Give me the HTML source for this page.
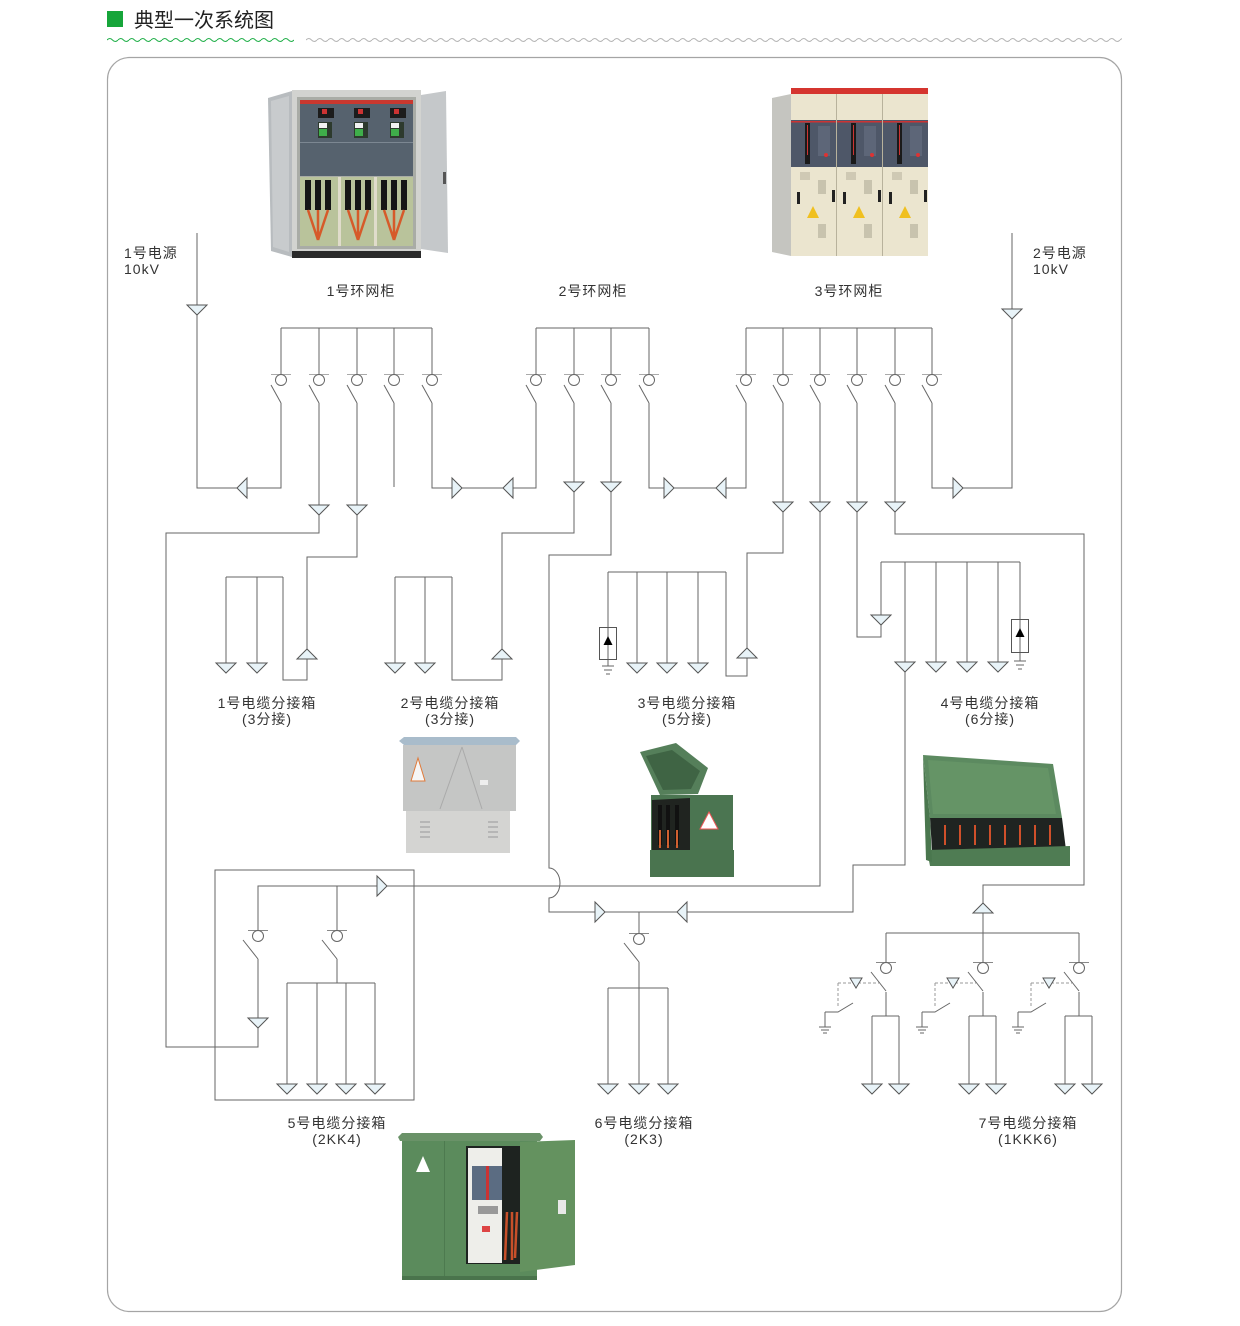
<!DOCTYPE html>
<html><head><meta charset="utf-8">
<style>
html,body{margin:0;padding:0;background:#fff;}
svg{display:block;}
text{font-family:"Liberation Sans","Noto Sans CJK SC",sans-serif;fill:#333;}
</style></head><body>
<svg width="1240" height="1326" viewBox="0 0 1240 1326" xmlns="http://www.w3.org/2000/svg">
<defs>
<pattern id="wg" x="107" y="36" width="11" height="8" patternUnits="userSpaceOnUse"><path d="M0,4 Q2.75,1 5.5,4 T11,4" fill="none" stroke="#22b04a" stroke-width="1"/></pattern>
<pattern id="wy" x="306" y="36" width="11" height="8" patternUnits="userSpaceOnUse"><path d="M0,4 Q2.75,1 5.5,4 T11,4" fill="none" stroke="#b5b5b5" stroke-width="1"/></pattern>
<polygon id="td" points="-10,0 10,0 0,10" fill="#e8f3f8" stroke="#555"/>
<polygon id="tu" points="0,0 -10,10 10,10" fill="#e8f3f8" stroke="#555"/>
<polygon id="tl" points="0,0 10,-10 10,10" fill="#e8f3f8" stroke="#555"/>
<polygon id="tr" points="0,0 -10,-10 -10,10" fill="#e8f3f8" stroke="#555"/>
<polygon id="ts" points="-6,0 6,0 0,10" fill="#e8f3f8" stroke="#555"/>
<g id="sw"><line x1="-10" y1="-5.5" x2="10" y2="-5.5" stroke="#aaa"/><circle r="5.5" fill="#fff" stroke="#666"/><line x1="-10" y1="5" x2="0" y2="23" stroke="#666"/></g>
<g id="sw2"><line x1="-10" y1="-5.5" x2="10" y2="-5.5" stroke="#888"/><circle r="5.5" fill="#fff" stroke="#666"/><line x1="-15" y1="4" x2="0" y2="23" stroke="#666"/></g>
</defs>

<!-- header -->
<rect x="107" y="11" width="16" height="16" fill="#16a53a"/>
<text x="134" y="27" font-size="20" style="fill:#222">典型一次系统图</text>
<rect x="107" y="36" width="187" height="8" fill="url(#wg)"/>
<rect x="306" y="36" width="816" height="8" fill="url(#wy)"/>

<!-- frame -->
<rect x="107.5" y="57.5" width="1014" height="1254" rx="22" ry="22" fill="none" stroke="#a5a5a5" stroke-width="1.2"/>

<!-- photo 1: 1号环网柜 -->
<g>
<polygon points="268,98 292,91 292,257 271,251" fill="#b8bcbf"/>
<polygon points="271,101 289,96 289,252 273,247" fill="#c8cbcd"/>
<rect x="292" y="90" width="129" height="163" fill="#d2d3d0"/>
<rect x="297" y="97" width="119" height="152" fill="#a9aca6"/>
<rect x="300" y="100" width="113" height="4" fill="#c9382f"/>
<rect x="300" y="104" width="113" height="72" fill="#56626e"/>
<rect x="300" y="142" width="113" height="1" fill="#7c8792"/>
<rect x="318" y="108" width="16" height="10" fill="#1c1c1c"/><rect x="322" y="109" width="5" height="5" fill="#c33"/>
<rect x="318" y="122" width="14" height="16" fill="#2d3a2d"/><rect x="319" y="123" width="8" height="5" fill="#f2f2f2"/><rect x="319" y="129" width="8" height="7" fill="#3fae4a"/>
<rect x="354" y="108" width="16" height="10" fill="#1c1c1c"/><rect x="358" y="109" width="5" height="5" fill="#c33"/>
<rect x="354" y="122" width="14" height="16" fill="#2d3a2d"/><rect x="355" y="123" width="8" height="5" fill="#f2f2f2"/><rect x="355" y="129" width="8" height="7" fill="#3fae4a"/>
<rect x="390" y="108" width="16" height="10" fill="#1c1c1c"/><rect x="394" y="109" width="5" height="5" fill="#c33"/>
<rect x="390" y="122" width="14" height="16" fill="#2d3a2d"/><rect x="391" y="123" width="8" height="5" fill="#f2f2f2"/><rect x="391" y="129" width="8" height="7" fill="#3fae4a"/>
<rect x="300" y="177" width="113" height="69" fill="#b9c39b"/>
<rect x="338" y="177" width="3" height="69" fill="#e0dccb"/><rect x="374" y="177" width="3" height="69" fill="#e0dccb"/>
<g fill="#151515">
<rect x="305" y="180" width="6" height="30"/><rect x="315" y="180" width="6" height="30"/><rect x="325" y="180" width="6" height="30"/>
<rect x="345" y="180" width="6" height="30"/><rect x="355" y="180" width="6" height="30"/><rect x="365" y="180" width="6" height="30"/>
<rect x="381" y="180" width="6" height="30"/><rect x="391" y="180" width="6" height="30"/><rect x="401" y="180" width="6" height="30"/>
</g>
<g fill="none" stroke="#d65a2a" stroke-width="2.5">
<path d="M308,210 L318,240 M318,210 L318,240 M328,210 L318,240"/>
<path d="M348,210 L358,240 M358,210 L358,240 M368,210 L358,240"/>
<path d="M384,210 L394,240 M394,210 L394,240 M404,210 L394,240"/>
</g>
<rect x="292" y="251" width="129" height="7" fill="#2b2b2b"/>
<polygon points="421,95 446,91 448,253 421,249" fill="#c5c8ca"/>
<rect x="443" y="172" width="3" height="12" fill="#555"/>
</g>

<!-- photo 2: 3号环网柜 -->
<g>
<polygon points="772,98 791,94 791,256 772,252" fill="#c5c5c0"/>
<rect x="791" y="88" width="137" height="6" fill="#d5352f"/>
<rect x="791" y="94" width="137" height="162" fill="#ebe5cf"/>
<rect x="791" y="120" width="137" height="47" fill="#4e5768"/>
<rect x="791" y="121" width="137" height="1.5" fill="#c33"/>
<g>
<rect x="805" y="123" width="5" height="41" fill="#1a1a1a"/><rect x="807" y="125" width="1" height="30" fill="#c33"/>
<rect x="818" y="126" width="12" height="30" fill="#5d6678"/><circle cx="826" cy="155" r="2" fill="#d33"/>
<rect x="800" y="172" width="10" height="8" fill="#cfc9b4"/><rect x="797" y="192" width="3" height="12" fill="#222"/><rect x="832" y="190" width="3" height="12" fill="#222"/>
<rect x="818" y="180" width="8" height="14" fill="#c8c3ae"/><polygon points="813,206 807,218 819,218" fill="#f0c020"/><rect x="818" y="224" width="8" height="14" fill="#c8c3ae"/>
</g>
<g transform="translate(46,0)">
<rect x="805" y="123" width="5" height="41" fill="#1a1a1a"/><rect x="807" y="125" width="1" height="30" fill="#c33"/>
<rect x="818" y="126" width="12" height="30" fill="#5d6678"/><circle cx="826" cy="155" r="2" fill="#d33"/>
<rect x="800" y="172" width="10" height="8" fill="#cfc9b4"/><rect x="797" y="192" width="3" height="12" fill="#222"/><rect x="832" y="190" width="3" height="12" fill="#222"/>
<rect x="818" y="180" width="8" height="14" fill="#c8c3ae"/><polygon points="813,206 807,218 819,218" fill="#f0c020"/><rect x="818" y="224" width="8" height="14" fill="#c8c3ae"/>
</g>
<g transform="translate(92,0)">
<rect x="805" y="123" width="5" height="41" fill="#1a1a1a"/><rect x="807" y="125" width="1" height="30" fill="#c33"/>
<rect x="818" y="126" width="12" height="30" fill="#5d6678"/><circle cx="826" cy="155" r="2" fill="#d33"/>
<rect x="800" y="172" width="10" height="8" fill="#cfc9b4"/><rect x="797" y="192" width="3" height="12" fill="#222"/><rect x="832" y="190" width="3" height="12" fill="#222"/>
<rect x="818" y="180" width="8" height="14" fill="#c8c3ae"/><polygon points="813,206 807,218 819,218" fill="#f0c020"/><rect x="818" y="224" width="8" height="14" fill="#c8c3ae"/>
</g>
<rect x="836" y="94" width="1" height="162" fill="#b8b29c"/><rect x="882" y="94" width="1" height="162" fill="#b8b29c"/>
</g>

<!-- photo 3: box 2 -->
<g>
<polygon points="399,741 404,737 516,737 520,741 516,745 404,745" fill="#a9bccb"/>
<rect x="403" y="745" width="113" height="66" fill="#c5c6c5"/>
<path d="M462,747 L440,809 M462,747 L482,809" stroke="#aaa" fill="none"/>
<polygon points="418,758 411,781 425,781" fill="#f6f6f6" stroke="#e07a3a"/>
<rect x="480" y="780" width="8" height="5" fill="#eee"/>
<rect x="406" y="811" width="104" height="42" fill="#d4d4d2"/>
<path d="M420,822h10 M420,827h10 M420,832h10 M420,837h10 M488,822h10 M488,827h10 M488,832h10 M488,837h10" stroke="#999"/>
</g>

<!-- photo 4: box 3 -->
<g>
<polygon points="640,752 676,743 708,768 698,794 660,795" fill="#557f5a"/>
<polygon points="646,756 672,750 700,771 691,789 663,790" fill="#3f6444"/>
<rect x="651" y="795" width="82" height="82" fill="#4b7551"/>
<polygon points="652,800 690,798 690,850 652,852" fill="#202420"/>
<path d="M660,805V845 M668,805V845 M677,805V845" stroke="#111" stroke-width="4"/>
<path d="M660,830V848 M668,830V848 M677,830V848" stroke="#d06030" stroke-width="2"/>
<polygon points="709,812 700,829 718,829" fill="#fff" stroke="#e55"/>
<rect x="650" y="850" width="84" height="27" fill="#4a744f"/>
</g>

<!-- photo 5: box 4 -->
<g>
<polygon points="923,755 1053,764 1062,818 930,818" fill="#5c8a60"/>
<polygon points="928,760 1048,768 1056,814 933,814" fill="#659466"/>
<polygon points="930,818 1062,818 1066,850 932,850" fill="#1f2421"/>
<path d="M945,825V845 M960,825V845 M975,825V845 M990,825V845 M1005,825V845 M1020,825V845 M1035,825V845 M1050,825V845" stroke="#d0502a" stroke-width="2"/>
<polygon points="927,850 1070,846 1070,866 930,866" fill="#4f7c53"/>
<polygon points="923,755 930,818 932,862 926,860" fill="#4a774e"/>
</g>

<!-- photo 6: box 5 -->
<g>
<polygon points="398,1137 402,1133 540,1133 543,1137 540,1141 400,1141" fill="#6a9268"/>
<rect x="402" y="1141" width="135" height="137" fill="#5b8b5c"/>
<rect x="444" y="1141" width="1" height="137" fill="#4d7a4f"/>
<polygon points="520,1142 575,1140 575,1265 520,1272" fill="#64925f"/>
<rect x="558" y="1200" width="8" height="14" fill="#e8e8e8"/>
<rect x="466" y="1146" width="54" height="118" fill="#1e2320"/>
<rect x="468" y="1148" width="34" height="115" fill="#eeeeea"/>
<rect x="472" y="1166" width="30" height="34" fill="#5b6c82"/>
<rect x="486" y="1166" width="3" height="34" fill="#c33"/>
<rect x="478" y="1206" width="20" height="8" fill="#999"/>
<rect x="482" y="1226" width="8" height="6" fill="#d44"/>
<path d="M507,1212 L505,1260 M512,1212 L512,1260 M517,1212 L515,1258" stroke="#c8502a" stroke-width="2.5"/>
<polygon points="423,1156 416,1172 430,1172" fill="#fff"/>
<rect x="402" y="1276" width="135" height="4" fill="#4a744c"/>
</g>

<!-- wiring -->
<g fill="none" stroke="#666" stroke-width="1" shape-rendering="crispEdges">
<path d="M281,328H432 M281,328V375 M319,328V375 M357,328V375 M394,328V375 M432,328V375"/>
<path d="M536,328H649 M536,328V375 M574,328V375 M611,328V375 M649,328V375"/>
<path d="M746,328H932 M746,328V375 M783,328V375 M820,328V375 M857,328V375 M895,328V375 M932,328V375"/>
<path d="M197,233V488H281V403"/>
<path d="M319,403V533H166V1047H258V959"/>
<path d="M357,403V557H307V680H283V577"/>
<path d="M394,403V487"/>
<path d="M432,403V488H536V403"/>
<path d="M574,403V533H502V680H452V577"/>
<path d="M649,403V488H746V403"/>
<path d="M783,403V553H747V676H726V572"/>
<path d="M820,403V886H258V930"/>
<path d="M857,403V637H881V562"/>
<path d="M895,403V534H1084V885H983V962"/>
<path d="M932,403V488H1012V233"/>
<path d="M226,577H283 M226,577V663 M257,577V663"/>
<path d="M395,577H452 M395,577V663 M425,577V663"/>
<path d="M608,572H726 M608,572V666 M637,572V663 M667,572V663 M698,572V663"/>
<path d="M881,562H1020 M936,562V662 M967,562V662 M998,562V662 M1020,562V661"/>
<path d="M602,666H614 M604,670H612 M606,674H610"/>
<path d="M1014,661H1026 M1016,665H1024 M1018,669H1022"/>
<rect x="215" y="870" width="199" height="230"/>
<path d="M337,886V930 M337,959V983 M287,983H375 M287,983V1084 M317,983V1084 M346,983V1084 M375,983V1084"/>
<path d="M639,912V933 M639,962V988 M608,988H668 M608,988V1084 M639,988V1084 M668,988V1084"/>
<path d="M886,933H1079 M886,933V962 M1079,933V962"/>
<path d="M886,992V1016 M872,1016H899 M872,1016V1084 M899,1016V1084"/>
<path d="M983,992V1016 M969,1016H996 M969,1016V1084 M996,1016V1084"/>
<path d="M1079,992V1016 M1065,1016H1092 M1065,1016V1084 M1092,1016V1084"/>
</g>
<path d="M611,403V555H549V868 A11,15 0 0 1 549,898 V912H853V865H905V562" fill="none" stroke="#666" stroke-width="1"/>

<!-- arresters -->
<rect x="599.5" y="627.5" width="17" height="32" fill="none" stroke="#555"/>
<polygon points="608,636 603.5,645 612.5,645" fill="#000"/>
<rect x="1011.5" y="619.5" width="17" height="33" fill="none" stroke="#555"/>
<polygon points="1020,628 1015.5,637 1024.5,637" fill="#000"/>

<!-- box 7 grounding units -->
<g id="gu">
<path d="M838,983H879 M838,983V1008" stroke="#999" stroke-dasharray="3,2" fill="none"/>
<use href="#ts" x="856" y="978"/>
<path d="M825,1012H838L853,1003 M825,1012V1027 M819,1027H831 M821,1030H829 M823,1033H827" stroke="#666" fill="none"/>
</g>
<use href="#gu" x="97" y="0"/>
<use href="#gu" x="193" y="0"/>

<!-- switches -->
<use href="#sw" x="281" y="380"/><use href="#sw" x="319" y="380"/><use href="#sw" x="357" y="380"/><use href="#sw" x="394" y="380"/><use href="#sw" x="432" y="380"/>
<use href="#sw" x="536" y="380"/><use href="#sw" x="574" y="380"/><use href="#sw" x="611" y="380"/><use href="#sw" x="649" y="380"/>
<use href="#sw" x="746" y="380"/><use href="#sw" x="783" y="380"/><use href="#sw" x="820" y="380"/><use href="#sw" x="857" y="380"/><use href="#sw" x="895" y="380"/><use href="#sw" x="932" y="380"/>
<use href="#sw2" x="258" y="936"/><use href="#sw2" x="337" y="936"/>
<use href="#sw2" x="639" y="939"/>
<use href="#sw2" x="886" y="968"/><use href="#sw2" x="983" y="968"/><use href="#sw2" x="1079" y="968"/>

<!-- triangles down -->
<use href="#td" x="197" y="305"/><use href="#td" x="1012" y="309"/>
<use href="#td" x="319" y="505"/><use href="#td" x="357" y="505"/>
<use href="#td" x="574" y="482"/><use href="#td" x="611" y="482"/>
<use href="#td" x="783" y="502"/><use href="#td" x="820" y="502"/><use href="#td" x="857" y="502"/><use href="#td" x="895" y="502"/>
<use href="#td" x="226" y="663"/><use href="#td" x="257" y="663"/>
<use href="#td" x="395" y="663"/><use href="#td" x="425" y="663"/>
<use href="#td" x="637" y="663"/><use href="#td" x="667" y="663"/><use href="#td" x="698" y="663"/>
<use href="#td" x="881" y="615"/>
<use href="#td" x="905" y="662"/><use href="#td" x="936" y="662"/><use href="#td" x="967" y="662"/><use href="#td" x="998" y="662"/>
<use href="#td" x="258" y="1018"/>
<use href="#td" x="287" y="1084"/><use href="#td" x="317" y="1084"/><use href="#td" x="346" y="1084"/><use href="#td" x="375" y="1084"/>
<use href="#td" x="608" y="1084"/><use href="#td" x="639" y="1084"/><use href="#td" x="668" y="1084"/>
<use href="#td" x="872" y="1084"/><use href="#td" x="899" y="1084"/>
<use href="#td" x="969" y="1084"/><use href="#td" x="996" y="1084"/>
<use href="#td" x="1065" y="1084"/><use href="#td" x="1092" y="1084"/>
<!-- up -->
<use href="#tu" x="307" y="649"/><use href="#tu" x="502" y="649"/><use href="#tu" x="747" y="648"/><use href="#tu" x="983" y="903"/>
<!-- left -->
<use href="#tl" x="237" y="488"/><use href="#tl" x="503" y="488"/><use href="#tl" x="716" y="488"/><use href="#tl" x="677" y="912"/>
<!-- right -->
<use href="#tr" x="462" y="488"/><use href="#tr" x="674" y="488"/><use href="#tr" x="963" y="488"/><use href="#tr" x="387" y="886"/><use href="#tr" x="605" y="912"/>

<!-- labels -->
<g font-size="14" letter-spacing="1">
<text x="124" y="258">1号电源</text>
<text x="124" y="274">10kV</text>
<text x="1033" y="258">2号电源</text>
<text x="1033" y="274">10kV</text>
<text x="361" y="296" text-anchor="middle">1号环网柜</text>
<text x="593" y="296" text-anchor="middle">2号环网柜</text>
<text x="849" y="296" text-anchor="middle">3号环网柜</text>
<text x="267" y="708" text-anchor="middle">1号电缆分接箱</text>
<text x="267" y="724" text-anchor="middle">(3分接)</text>
<text x="450" y="708" text-anchor="middle">2号电缆分接箱</text>
<text x="450" y="724" text-anchor="middle">(3分接)</text>
<text x="687" y="708" text-anchor="middle">3号电缆分接箱</text>
<text x="687" y="724" text-anchor="middle">(5分接)</text>
<text x="990" y="708" text-anchor="middle">4号电缆分接箱</text>
<text x="990" y="724" text-anchor="middle">(6分接)</text>
<text x="337" y="1128" text-anchor="middle">5号电缆分接箱</text>
<text x="337" y="1144" text-anchor="middle">(2KK4)</text>
<text x="644" y="1128" text-anchor="middle">6号电缆分接箱</text>
<text x="644" y="1144" text-anchor="middle">(2K3)</text>
<text x="1028" y="1128" text-anchor="middle">7号电缆分接箱</text>
<text x="1028" y="1144" text-anchor="middle">(1KKK6)</text>
</g>
</svg>
</body></html>
